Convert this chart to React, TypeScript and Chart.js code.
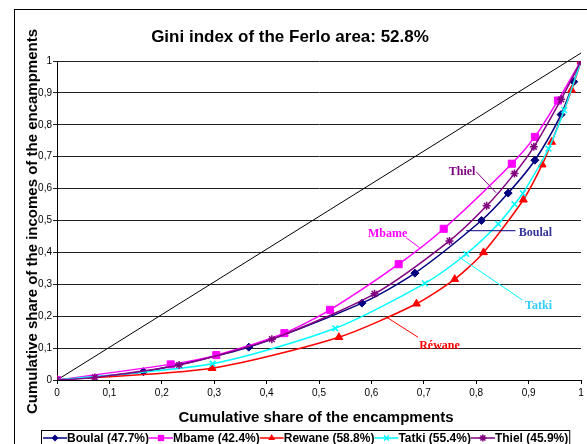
import React, { useEffect, useRef } from 'react';
import { Chart, registerables } from 'chart.js';

Chart.register(...registerables);

// ---- Data ----
const seriesNames = ['Boulal', 'Mbame', 'Rewane', 'Tatki', 'Thiel'];
const giniValues = ['47.7%', '42.4%', '58.8%', '55.4%', '45.9%'];
const seriesColors = ['#000080', '#FF00FF', '#FF0000', '#00FFFF', '#800080'];
const pointStyles = ['rectRot', 'rect', 'triangle', 'crossRot', 'star'];
const pointRadii = [4, 5, 4.5, 4, 4];

const boulalX = [0, 0.165, 0.366, 0.582, 0.683, 0.81, 0.861, 0.912, 0.962, 0.986, 1];
const boulalY = [0, 0.026, 0.103, 0.241, 0.335, 0.5, 0.586, 0.689, 0.832, 0.935, 1];
const mbameX = [0, 0.217, 0.304, 0.434, 0.521, 0.652, 0.738, 0.868, 0.912, 0.956, 1];
const mbameY = [0, 0.049, 0.078, 0.147, 0.22, 0.363, 0.474, 0.678, 0.762, 0.876, 1];
const rewaneX = [0, 0.296, 0.538, 0.686, 0.759, 0.814, 0.89, 0.926, 0.944, 0.982, 1];
const rewaneY = [0, 0.037, 0.134, 0.239, 0.316, 0.4, 0.565, 0.675, 0.746, 0.909, 1];
const tatkiX = [0, 0.297, 0.531, 0.702, 0.781, 0.842, 0.873, 0.889, 0.938, 0.968, 1];
const tatkiY = [0, 0.051, 0.162, 0.303, 0.395, 0.489, 0.551, 0.585, 0.725, 0.846, 1];
const thielX = [0, 0.072, 0.233, 0.41, 0.606, 0.749, 0.82, 0.873, 0.91, 0.962, 1];
const thielY = [0, 0.008, 0.047, 0.128, 0.27, 0.436, 0.546, 0.647, 0.731, 0.88, 1];
const equalityX = [0, 1];
const equalityY = [0, 1.025];

const seriesX = [boulalX, mbameX, rewaneX, tatkiX, thielX];
const seriesY = [boulalY, mbameY, rewaneY, tatkiY, thielY];

const tickValues = [0, 0.1, 0.2, 0.3, 0.4, 0.5, 0.6, 0.7, 0.8, 0.9, 1];
const tickLabels = ['0', '0,1', '0,2', '0,3', '0,4', '0,5', '0,6', '0,7', '0,8', '0,9', '1'];

const titleText = 'Gini index of the Ferlo area: 52.8%';
const xTitle = 'Cumulative share of the encampments';
const yTitle = 'Cumulative share of the incomes of the encampments';

// Annotation labels (data coordinates)
const annotationTexts = ['Thiel', 'Mbame', 'Boulal', 'Tatki', 'Réwane'];
const annotationColors = ['#800080', '#FF00FF', '#333399', '#33CCFF', '#FF0000'];
const leaderColors = ['#800080', '#FF00FF', '#000080', '#00FFFF', '#FF0000'];
const annotationTextX = [0.773, 0.631, 0.913, 0.919, 0.73];
const annotationTextY = [0.653, 0.458, 0.462, 0.232, 0.107];
const leaderFromX = [0.8, 0.666, 0.781, 0.767, 0.629];
const leaderFromY = [0.653, 0.446, 0.468, 0.386, 0.197];
const leaderToX = [0.838, 0.692, 0.875, 0.888, 0.689];
const leaderToY = [0.587, 0.415, 0.468, 0.251, 0.134];

const SANS = '"Liberation Sans", Arial, sans-serif';
const SERIF = '"Liberation Serif", "Times New Roman", serif';

function fmtTick(v: number): string {
  const r = Math.round(v * 10) / 10;
  const i = tickValues.findIndex((t) => Math.abs(t - r) < 1e-6);
  return i >= 0 ? tickLabels[i] : '';
}

function drawMarker(ctx: CanvasRenderingContext2D, style: string, x: number, y: number, r: number, color: string) {
  ctx.save();
  ctx.fillStyle = color;
  ctx.strokeStyle = color;
  ctx.lineWidth = 1.5;
  ctx.beginPath();
  if (style === 'rectRot') {
    ctx.moveTo(x, y - r);
    ctx.lineTo(x + r, y);
    ctx.lineTo(x, y + r);
    ctx.lineTo(x - r, y);
    ctx.closePath();
    ctx.fill();
  } else if (style === 'rect') {
    const s = r * Math.SQRT1_2;
    ctx.rect(x - s, y - s, 2 * s, 2 * s);
    ctx.fill();
  } else if (style === 'triangle') {
    ctx.moveTo(x, y - r);
    ctx.lineTo(x + r * 0.866, y + r * 0.5);
    ctx.lineTo(x - r * 0.866, y + r * 0.5);
    ctx.closePath();
    ctx.fill();
  } else if (style === 'crossRot') {
    const d = r * Math.SQRT1_2;
    ctx.moveTo(x - d, y - d);
    ctx.lineTo(x + d, y + d);
    ctx.moveTo(x - d, y + d);
    ctx.lineTo(x + d, y - d);
    ctx.stroke();
  } else if (style === 'star') {
    const d = r * Math.SQRT1_2;
    ctx.moveTo(x - d, y - d);
    ctx.lineTo(x + d, y + d);
    ctx.moveTo(x - d, y + d);
    ctx.lineTo(x + d, y - d);
    ctx.moveTo(x, y - r);
    ctx.lineTo(x, y + r);
    ctx.moveTo(x - r, y);
    ctx.lineTo(x + r, y);
    ctx.stroke();
  }
  ctx.restore();
}

const decorPlugin = {
  id: 'decor',
  beforeDraw(chart: any) {
    const ctx = chart.ctx as CanvasRenderingContext2D;
    ctx.save();
    ctx.fillStyle = '#fff';
    ctx.fillRect(0, 0, chart.width, chart.height);
    ctx.restore();
  },
  afterDraw(chart: any) {
    const ctx = chart.ctx as CanvasRenderingContext2D;
    const xs = chart.scales.x;
    const ys = chart.scales.y;
    ctx.save();
    // outer frame
    ctx.strokeStyle = '#000';
    ctx.lineWidth = 1;
    ctx.strokeRect(14.5, 9.5, 700, 600);

    // title
    ctx.fillStyle = '#000';
    ctx.font = `bold 17px ${SANS}`;
    ctx.textAlign = 'center';
    ctx.textBaseline = 'alphabetic';
    ctx.fillText(titleText, 290, 42);

    // x title
    ctx.font = `bold 15px ${SANS}`;
    ctx.fillText(xTitle, 316, 422);

    // y title
    ctx.save();
    ctx.translate(37, 221.5);
    ctx.rotate(-Math.PI / 2);
    ctx.fillText(yTitle, 0, 0);
    ctx.restore();

    // annotations
    for (let i = 0; i < annotationTexts.length; i++) {
      ctx.strokeStyle = leaderColors[i];
      ctx.lineWidth = 1;
      ctx.beginPath();
      ctx.moveTo(xs.getPixelForValue(leaderFromX[i]), ys.getPixelForValue(leaderFromY[i]));
      ctx.lineTo(xs.getPixelForValue(leaderToX[i]), ys.getPixelForValue(leaderToY[i]));
      ctx.stroke();
      ctx.fillStyle = annotationColors[i];
      ctx.font = `bold 12px ${SERIF}`;
      ctx.textAlign = 'center';
      ctx.textBaseline = 'middle';
      ctx.fillText(annotationTexts[i], xs.getPixelForValue(annotationTextX[i]), ys.getPixelForValue(annotationTextY[i]));
    }

    // legend
    ctx.font = `bold 12px ${SANS}`;
    const sampleLen = 24;
    const labels = seriesNames.map((n, i) => `${n} (${giniValues[i]})`);
    const widths = labels.map((l) => ctx.measureText(l).width);
    const total = widths.reduce((a, b) => a + b + sampleLen, 0);
    const cx = 306;
    const x0 = Math.round(cx - total / 2);
    const boxTop = 430.5;
    ctx.strokeStyle = '#000';
    ctx.lineWidth = 1;
    ctx.strokeRect(x0 - 1.5, boxTop, total + 3, 40);
    const ly = 438;
    let x = x0;
    for (let i = 0; i < labels.length; i++) {
      ctx.strokeStyle = seriesColors[i];
      ctx.lineWidth = 1.5;
      ctx.beginPath();
      ctx.moveTo(x, ly);
      ctx.lineTo(x + sampleLen, ly);
      ctx.stroke();
      drawMarker(ctx, pointStyles[i], x + sampleLen / 2, ly, pointRadii[i] - 0.5, seriesColors[i]);
      x += sampleLen;
      ctx.fillStyle = '#000';
      ctx.textAlign = 'left';
      ctx.textBaseline = 'alphabetic';
      ctx.fillText(labels[i], x, 442);
      x += widths[i];
    }
    ctx.restore();
  },
};

export default function App() {
  const canvasRef = useRef<HTMLCanvasElement | null>(null);

  useEffect(() => {
    if (!canvasRef.current) return;
    const datasets: any[] = seriesNames.map((name, i) => ({
      label: name,
      data: seriesX[i].map((xv, j) => ({ x: xv, y: seriesY[i][j] })),
      showLine: true,
      borderColor: seriesColors[i],
      backgroundColor: seriesColors[i],
      borderWidth: 1.5,
      tension: 0.25,
      pointStyle: pointStyles[i],
      pointRadius: pointRadii[i],
      pointBackgroundColor: seriesColors[i],
      pointBorderColor: seriesColors[i],
      pointBorderWidth: pointStyles[i] === 'crossRot' || pointStyles[i] === 'star' ? 1.5 : 1,
      order: 5 - i,
    }));
    datasets.push({
      label: 'Equality',
      data: equalityX.map((xv, j) => ({ x: xv, y: equalityY[j] })),
      showLine: true,
      borderColor: '#000',
      borderWidth: 1,
      pointRadius: 0,
      clip: false,
      order: 10,
    });

    const chart = new Chart(canvasRef.current, {
      type: 'scatter',
      data: { datasets },
      options: {
        responsive: false,
        maintainAspectRatio: false,
        animation: false,
        devicePixelRatio: 1,
        layout: { padding: { top: 61, right: 1, left: 0, bottom: 0 } },
        plugins: {
          legend: { display: false },
          tooltip: { enabled: false },
          title: { display: false },
        },
        scales: {
          x: {
            type: 'linear',
            min: 0,
            max: 1,
            afterBuildTicks: (s: any) => {
              s.ticks = tickValues.map((v) => ({ value: v }));
            },
            afterFit: (s: any) => {
              s.height = 64;
              s.paddingLeft = 0;
              s.paddingRight = 0;
            },
            ticks: {
              callback: (v: any) => fmtTick(Number(v)),
              font: { family: SANS, size: 10 },
              color: '#000',
              padding: 3,
              maxRotation: 0,
              autoSkip: false,
            },
            grid: { drawOnChartArea: false, drawTicks: true, tickLength: 4, color: '#000' },
            border: { display: true, color: '#000', width: 1 },
          },
          y: {
            type: 'linear',
            min: 0,
            max: 1,
            afterBuildTicks: (s: any) => {
              s.ticks = tickValues.map((v) => ({ value: v }));
            },
            afterFit: (s: any) => {
              s.width = 57;
              s.paddingTop = 0;
              s.paddingBottom = 0;
            },
            ticks: {
              callback: (v: any) => fmtTick(Number(v)),
              font: { family: SANS, size: 10 },
              color: '#000',
              padding: 1,
              autoSkip: false,
            },
            grid: { drawTicks: true, tickLength: 4, color: '#222', lineWidth: 1 },
            border: { display: true, color: '#000', width: 1 },
          },
        },
      },
      plugins: [decorPlugin],
    } as any);
    return () => chart.destroy();
  }, []);

  return (
    <div style={{ position: 'fixed', left: 0, top: 0, width: 587, height: 444, background: '#fff' }}>
      <canvas ref={canvasRef} width={587} height={444} style={{ width: 587, height: 444, display: 'block' }} />
    </div>
  );
}
